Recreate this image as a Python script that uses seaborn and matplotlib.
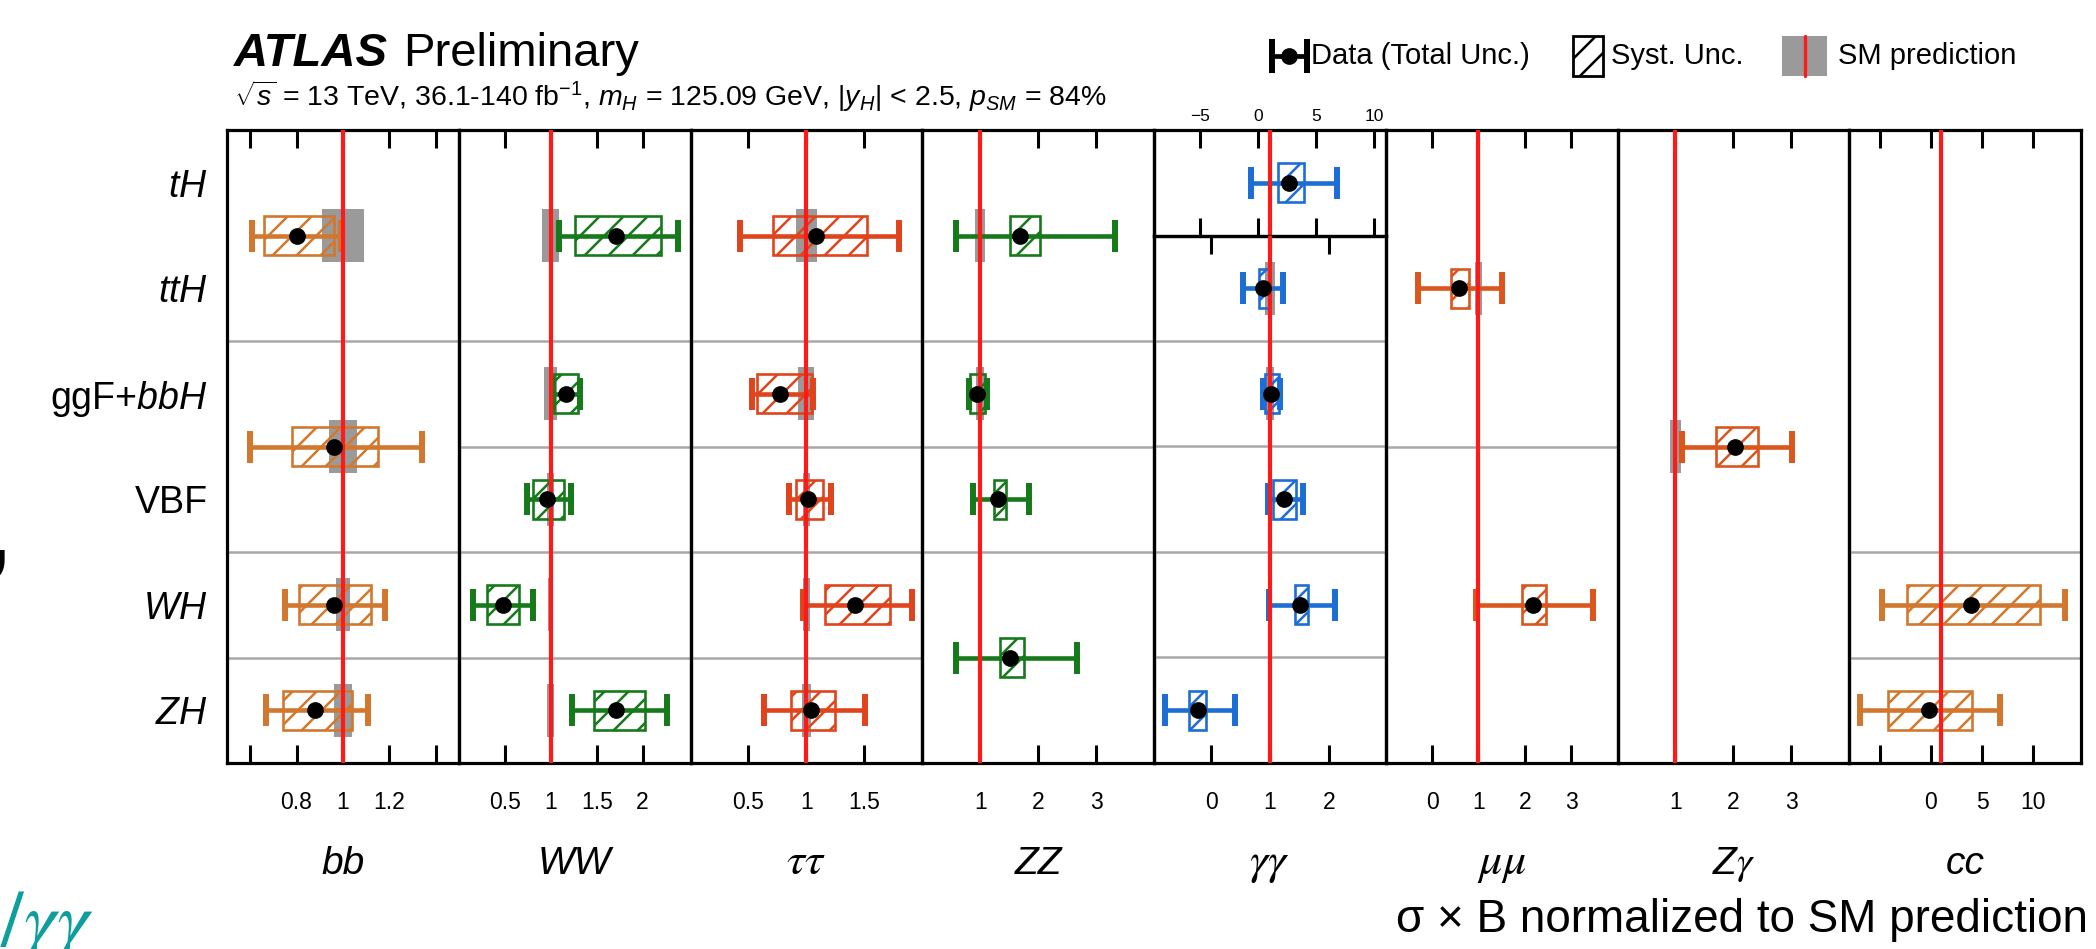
import numpy as np
import pandas as pd
import matplotlib
matplotlib.use("Agg")
import matplotlib.pyplot as plt
from matplotlib.patches import Rectangle
import seaborn as sns

# ---------------------------------------------------------------------------
# Decay channels (columns) and production modes (rows)
# ---------------------------------------------------------------------------
CHANNELS = ["bb", "WW", "tautau", "ZZ", "gamgam", "mumu", "Zgam", "cc"]
CHANNEL_LABELS = ["bb", "WW", r"$\tau\tau$", "ZZ", r"$\gamma\gamma$",
                  r"$\mu\mu$", r"Z$\gamma$", "cc"]
CHANNEL_COLORS = ["#D2772E", "#16791A", "#E0441C", "#16791A",
                  "#1C6ED6", "#DA561C", "#DA561C", "#D2772E"]
PRODUCTION_LABELS = [r"$tH$", r"$ttH$", r"ggF+$bbH$", "VBF", r"$WH$", r"$ZH$"]
PRODUCTION_ROWS = [0.5, 1.5, 2.5, 3.5, 4.5, 5.5]

# ---------------------------------------------------------------------------
# Measured sigma x B / SM, with total and systematic uncertainties
# (row = vertical position in production-mode units, 0 = top)
# ---------------------------------------------------------------------------
MEAS_CHANNEL = (["bb"] * 4 + ["WW"] * 5 + ["tautau"] * 5 + ["ZZ"] * 4
                + ["gamgam"] * 6 + ["mumu"] * 2 + ["Zgam"] * 1 + ["cc"] * 2)
MEAS_ROW = [1.0, 3.0, 4.5, 5.5,
            1.0, 2.5, 3.5, 4.5, 5.5,
            1.0, 2.5, 3.5, 4.5, 5.5,
            1.0, 2.5, 3.5, 5.0,
            0.5, 1.5, 2.5, 3.5, 4.5, 5.5,
            1.5, 4.5,
            3.0,
            4.5, 5.5]
MU = [0.80, 0.96, 0.96, 0.88,
      1.71, 1.17, 0.96, 0.48, 1.71,
      1.08, 0.77, 1.01, 1.42, 1.04,
      1.68, 0.95, 1.31, 1.51,
      2.63, 0.88, 1.02, 1.24, 1.51, -0.22,
      0.58, 2.18,
      2.03,
      3.9, -0.2]
TOT_DN = [0.19, 0.36, 0.21, 0.21,
          0.62, 0.15, 0.22, 0.32, 0.48,
          0.65, 0.24, 0.16, 0.45, 0.41,
          1.10, 0.14, 0.44, 0.93,
          3.29, 0.33, 0.13, 0.27, 0.52, 0.56,
          0.88, 1.24,
          0.92,
          8.7, 6.7]
TOT_UP = [0.19, 0.38, 0.22, 0.23,
          0.67, 0.15, 0.26, 0.33, 0.55,
          0.72, 0.29, 0.20, 0.49, 0.47,
          1.65, 0.16, 0.53, 1.16,
          4.14, 0.35, 0.15, 0.32, 0.59, 0.63,
          0.92, 1.30,
          0.98,
          9.2, 7.0]
SYS_DN = [0.14, 0.18, 0.15, 0.14,
          0.45, 0.13, 0.15, 0.17, 0.24,
          0.37, 0.20, 0.10, 0.26, 0.17,
          0.17, 0.12, 0.08, 0.17,
          0.92, 0.06, 0.11, 0.18, 0.08, 0.15,
          0.18, 0.23,
          0.33,
          6.2, 4.0]
SYS_UP = [0.16, 0.19, 0.16, 0.16,
          0.49, 0.13, 0.18, 0.18, 0.32,
          0.44, 0.28, 0.13, 0.30, 0.21,
          0.36, 0.14, 0.13, 0.24,
          1.31, 0.10, 0.13, 0.21, 0.14, 0.13,
          0.22, 0.27,
          0.39,
          6.8, 4.2]
SM_UNC = [0.09, 0.06, 0.03, 0.04,
          0.09, 0.07, 0.04, 0.03, 0.04,
          0.09, 0.07, 0.03, 0.03, 0.04,
          0.09, 0.07, 0.03, 0.03,
          0.00, 0.09, 0.07, 0.03, 0.03, 0.04,
          0.07, 0.03,
          0.10,
          0.00, 0.00]

# ---------------------------------------------------------------------------
# Per-channel axis settings
# ---------------------------------------------------------------------------
X_MIN = [0.5, 0.0, 0.0, 0.0, -0.97, -1.0, 0.0, -8.0]
X_MAX = [1.5, 2.52, 2.0, 4.0, 2.97, 4.0, 4.0, 14.7]
X_TICKS = [[0.6, 0.8, 1.0, 1.2, 1.4], [0.5, 1, 1.5, 2], [0.5, 1, 1.5],
           [1, 2, 3], [0, 1, 2], [0, 1, 2, 3], [1, 2, 3], [-5, 0, 5, 10]]
X_TICKLABELS = [["", "0.8", "1", "1.2", ""], ["0.5", "1", "1.5", "2"],
                ["0.5", "1", "1.5"], ["1", "2", "3"], ["0", "1", "2"],
                ["0", "1", "2", "3"], ["1", "2", "3"], ["", "0", "5", "10"]]
ROW_SEPARATORS = [[2, 4, 5], [2, 3, 4, 5], [2, 3, 4, 5], [2, 3, 4],
                  [2, 3, 4, 5], [3], [], [4, 5]]
# wide-range scale used for the gamma-gamma tH measurement
GG_TH_XLIM = (-9.0, 11.0)
GG_TH_TICKS = [-5, 0, 5, 10]
GG_TH_TICKLABELS = ["\u22125", "0", "5", "10"]

df = pd.DataFrame({
    "channel": MEAS_CHANNEL, "row": MEAS_ROW, "mu": MU,
    "tot_dn": TOT_DN, "tot_up": TOT_UP,
    "sys_dn": SYS_DN, "sys_up": SYS_UP, "sm": SM_UNC,
})

# ---------------------------------------------------------------------------
# Style.  The figure is rendered at 72 dpi (1 pt = 1 px) so that the hatch
# tile gives a fine stripe pitch; sizes below are written for a 100 dpi
# canvas and converted with pt().
# ---------------------------------------------------------------------------
DPI = 72
P = 100.0 / DPI


def pt(v):
    return v * P


sns.set_theme(style="white")
plt.rcParams.update({
    "font.family": ["Liberation Sans", "DejaVu Sans"],
    "mathtext.fontset": "custom",
    "mathtext.rm": "Liberation Sans",
    "mathtext.it": "Liberation Sans:italic",
    "mathtext.bf": "Liberation Sans:bold",
    "hatch.linewidth": pt(1.8),
    "axes.edgecolor": "black",
    "text.color": "black",
    "xtick.color": "black",
    "ytick.color": "black",
    "axes.labelcolor": "black",
})

W, H = 2096, 949
fig = plt.figure(figsize=(W / DPI, H / DPI), dpi=DPI)
fig.patch.set_facecolor("white")

FRAME_L, FRAME_R, FRAME_T, FRAME_B = 227, 2081, 130, 763
PANEL_W = (FRAME_R - FRAME_L) / len(CHANNELS)
ROW_H = (FRAME_B - FRAME_T) / 6.0

RED = "#FF1A1A"
GREY = "#9A9A9A"
SEP = "#A8A8A8"


def rect(x0, y_top, w, h):
    return [x0 / W, 1 - (y_top + h) / H, w / W, h / H]


def style_axis(ax, xmin, xmax, ylim, ticks, labels, top_labels=False,
               label_size=16.5, pad=20):
    ax.set_xlim(xmin, xmax)
    ax.set_ylim(*ylim)
    ax.set_facecolor("none")
    for s in ax.spines.values():
        s.set_visible(True)
        s.set_color("black")
        s.set_linewidth(pt(2.3))
    ax.set_xticks(ticks)
    ax.set_xticklabels(labels)
    ax.tick_params(axis="x", which="both", direction="in", top=True,
                   bottom=True, length=pt(13), width=pt(2.2),
                   labelsize=pt(label_size), pad=pt(pad),
                   labelbottom=not top_labels, labeltop=top_labels)
    ax.set_yticks([])
    ax.set_xlabel("")
    ax.set_ylabel("")


def draw_measurements(ax, d, color):
    sm = d[d["sm"] > 0]
    if len(sm):
        ax.barh(sm["row"], 2 * sm["sm"], left=1 - sm["sm"], height=0.5,
                color=GREY, linewidth=0, zorder=1)
    ax.errorbar(d["mu"], d["row"], xerr=[d["tot_dn"], d["tot_up"]],
                fmt="none", ecolor=color, elinewidth=pt(3.3),
                capsize=pt(11.5), capthick=pt(4.3), zorder=2)
    ax.barh(d["row"], d["sys_dn"] + d["sys_up"], left=d["mu"] - d["sys_dn"],
            height=0.37, facecolor="none", edgecolor=color, hatch="/",
            linewidth=pt(1.9), zorder=3)
    ax.axvline(1.0, color=RED, lw=pt(3.0), zorder=4)
    sns.scatterplot(data=d, x="mu", y="row", ax=ax, color="black",
                    s=145 * P * P, linewidth=0, zorder=5, legend=False)


axes = []
for i, ch in enumerate(CHANNELS):
    x0 = FRAME_L + i * PANEL_W
    color = CHANNEL_COLORS[i]
    d = df[df["channel"] == ch]
    if ch == "gamgam":
        # wide-range strip for tH on top, regular scale below
        ax_top = fig.add_axes(rect(x0, FRAME_T, PANEL_W, ROW_H))
        draw_measurements(ax_top, d[d["row"] < 1], color)
        style_axis(ax_top, *GG_TH_XLIM, (1, 0), GG_TH_TICKS,
                   GG_TH_TICKLABELS, top_labels=True, label_size=12.5, pad=4)
        ax = fig.add_axes(rect(x0, FRAME_T + ROW_H, PANEL_W, 5 * ROW_H))
        draw_measurements(ax, d[d["row"] >= 1], color)
        style_axis(ax, X_MIN[i], X_MAX[i], (6, 1), X_TICKS[i],
                   X_TICKLABELS[i])
    else:
        ax = fig.add_axes(rect(x0, FRAME_T, PANEL_W, 6 * ROW_H))
        draw_measurements(ax, d, color)
        style_axis(ax, X_MIN[i], X_MAX[i], (6, 0), X_TICKS[i],
                   X_TICKLABELS[i])
    for yy in ROW_SEPARATORS[i]:
        ax.axhline(yy, color=SEP, lw=pt(1.8), zorder=0.5)
    axes.append(ax)

# production-mode labels on the first panel
axes[0].set_yticks(PRODUCTION_ROWS)
axes[0].set_yticklabels(PRODUCTION_LABELS, fontsize=pt(27))
axes[0].tick_params(axis="y", length=0, pad=pt(14))

# ---------------------------------------------------------------------------
# Overlay in pixel coordinates for titles, legend and channel names
# ---------------------------------------------------------------------------
ov = fig.add_axes([0, 0, 1, 1], zorder=10)
ov.set_xlim(0, W)
ov.set_ylim(H, 0)
ov.axis("off")
ov.patch.set_alpha(0)

ov.text(234, 66, "ATLAS", fontsize=pt(34), fontweight="bold",
        fontstyle="italic", va="baseline", ha="left")
ov.text(403, 66, "Preliminary", fontsize=pt(34), va="baseline", ha="left")
ov.text(234, 106,
        r"$\sqrt{s}$ = 13 TeV, 36.1-140 fb$^{-1}$, $m_H$ = 125.09 GeV, "
        r"$|y_H|$ < 2.5, $p_{SM}$ = 84%",
        fontsize=pt(20.5), va="baseline", ha="left")

# legend
ly = 56
ov.plot([1272, 1307], [ly, ly], color="black", lw=pt(3.4),
        solid_capstyle="butt")
for cx in (1272, 1307):
    ov.plot([cx, cx], [ly - 17, ly + 17], color="black", lw=pt(4.3),
            solid_capstyle="butt")
ov.scatter([1289], [ly], s=145 * P * P, color="black", linewidths=0,
           zorder=3)
ov.text(1311, ly, "Data (Total Unc.)", fontsize=pt(21), va="center",
        ha="left")
ov.add_patch(Rectangle((1573, ly - 20), 30, 40, facecolor="none",
                       edgecolor="black", hatch="/", lw=pt(2.0)))
ov.text(1611, ly, "Syst. Unc.", fontsize=pt(21), va="center", ha="left")
ov.add_patch(Rectangle((1782, ly - 20), 45, 40, facecolor=GREY,
                       edgecolor="none"))
ov.plot([1805, 1805], [ly - 20, ly + 20], color=RED, lw=pt(2.4))
ov.text(1838, ly, "SM prediction", fontsize=pt(21), va="center", ha="left")

# channel names under each panel
for i, lab in enumerate(CHANNEL_LABELS):
    cx = FRAME_L + (i + 0.5) * PANEL_W
    size = 33 if lab.startswith("$") else 28
    ov.text(cx, 874, lab, fontsize=pt(size), fontstyle="italic",
            ha="center", va="baseline", math_fontfamily="stix")

ov.text(2088, 932, "\u03c3 \u00d7 B normalized to SM prediction",
        fontsize=pt(33), ha="right", va="baseline")

# slide fragments at the left border
ov.text(-14, 562, ",", fontsize=pt(60), fontweight="bold", ha="left",
        va="baseline")
ov.text(0, 946, r"$/\gamma\gamma$", fontsize=pt(58), color="#0E9E9E",
        ha="left", va="baseline", math_fontfamily="stix")

fig.savefig("out.png", dpi=DPI)
